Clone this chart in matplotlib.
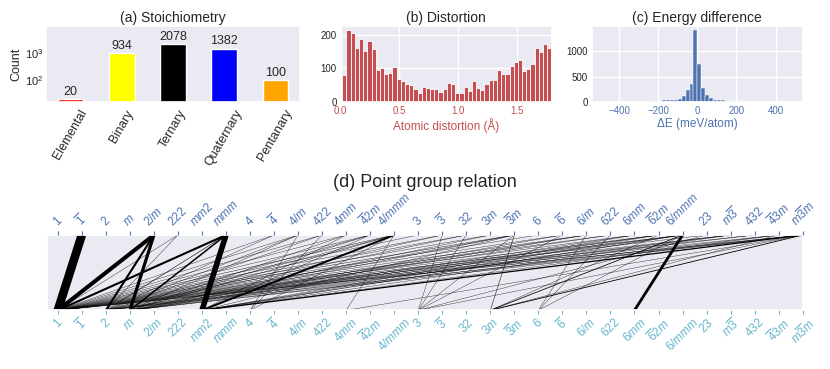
import numpy as np
import matplotlib
matplotlib.use("Agg")
import matplotlib.pyplot as plt
import seaborn as sns

# ---------------- data ----------------
# (a) Stoichiometry
stoich_categories = ["Elemental", "Binary", "Ternary", "Quaternary", "Pentanary"]
stoich_counts = [20, 934, 2078, 1382, 100]
stoich_colors = ["red", "yellow", "black", "blue", "orange"]

# (b) Distortion histogram (50 bins)
distortion_counts = [80, 216, 205, 160, 188, 152, 183, 158, 95, 102,
                     83, 88, 105, 70, 63, 55, 52, 38, 26, 45,
                     42, 38, 38, 30, 38, 57, 53, 28, 28, 45,
                     32, 62, 43, 36, 55, 65, 65, 95, 85, 85,
                     106, 120, 125, 93, 97, 113, 160, 148, 174, 162]
distortion_range = (0.0136, 1.797)
distortion_ticks = [0.0, 0.5, 1.0, 1.5]

# (c) Energy difference histogram (50 bins of 20 meV/atom, -500..500)
energy_counts = [3, 1, 1, 2, 1, 4, 1, 2, 2, 3, 4, 5,
                 8, 14, 20, 27, 33, 40, 40, 46, 59, 112, 243, 350,
                 1428, 743,
                 270, 145, 86, 46, 40, 33, 26, 20, 14, 13, 8, 5, 4, 3,
                 2, 2, 1, 1, 1, 1, 1, 1, 1, 1]
energy_range = (-500, 500)
energy_ticks = [-400, -200, 0, 200, 400]

# (d) Point group relation
point_groups = ["1", "-1", "2", "m", "2/m", "222", "mm2", "mmm", "4", "-4", "4/m",
                "422", "4mm", "-42m", "4/mmm", "3", "-3", "32", "3m", "-3m", "6",
                "-6", "6/m", "622", "6mm", "-62m", "6/mmm", "23", "m-3", "432",
                "-43m", "m-3m"]

edge_lower = (["1"] * 27 + ["2"] * 18 + ["m"] * 16 + ["mm2"] * 11 + ["4"] * 3 +
              ["4mm"] * 2 + ["3"] * 6 + ["3m"] * 5 + ["6"] * 3 + ["6mm"])
edge_upper = [
    # from 1
    "-1", "2/m", "mmm", "222", "-4", "4/m", "422", "-42m", "4/mmm", "3", "-3", "32",
    "3m", "-3m", "6", "-6", "6/m", "622", "6mm", "-62m", "6/mmm", "23", "m-3", "432",
    "-43m", "m-3m", "4mm",
    # from 2
    "2/m", "222", "mmm", "4/m", "422", "-42m", "4/mmm", "-3", "32", "-3m", "6/m",
    "622", "-62m", "6/mmm", "m-3", "432", "m-3m", "-4",
    # from m
    "2/m", "mmm", "4/m", "-42m", "4/mmm", "3m", "-3m", "-6", "6/m", "6mm", "-62m",
    "6/mmm", "m-3", "-43m", "m-3m", "4mm",
    # from mm2
    "mmm", "4/mmm", "4mm", "-42m", "-3m", "6mm", "-62m", "6/mmm", "-43m", "m-3m", "m-3",
    # from 4
    "4/m", "422", "4/mmm",
    # from 4mm
    "4/mmm", "m-3m",
    # from 3
    "-3", "32", "-6", "-3m", "23", "m-3m",
    # from 3m
    "-3m", "-62m", "6/mmm", "-43m", "m-3m",
    # from 6
    "6/m", "622", "6/mmm",
    # from 6mm
    "6/mmm",
]
edge_count = [
    620, 290, 150, 10, 10, 15, 8, 15, 30, 8, 20, 10,
    8, 30, 8, 10, 15, 8, 8, 15, 30, 8, 15, 8,
    15, 40, 8,
    150, 12, 40, 15, 10, 10, 25, 10, 12, 20, 12,
    10, 10, 20, 10, 8, 25, 8,
    230, 110, 12, 12, 30, 10, 20, 10, 10, 8, 15,
    25, 12, 12, 30, 10,
    400, 140, 15, 20, 15, 12, 20, 40, 15, 90, 12,
    12, 10, 8,
    20, 15,
    20, 15, 12, 12, 10, 15,
    35, 15, 55, 25, 60,
    15, 12, 20,
    200,
]

# ---------------- style ----------------
sns.set_theme(style="darkgrid")
plt.rcParams["font.family"] = ["Liberation Sans", "DejaVu Sans"]
plt.rcParams["mathtext.fontset"] = "custom"
plt.rcParams["mathtext.rm"] = "Liberation Sans"
plt.rcParams["mathtext.it"] = "Liberation Sans:italic"
plt.rcParams["mathtext.bf"] = "Liberation Sans:bold"

RED = "#c44e52"
BLUE = "#4c72b0"
CYAN = "#64b5cd"

W, H = 830, 369
fig = plt.figure(figsize=(W / 100, H / 100), dpi=100)


def px_axes(x0, y0, x1, y1):
    return fig.add_axes([x0 / W, 1 - y1 / H, (x1 - x0) / W, (y1 - y0) / H])


# ---------------- (a) ----------------
axa = px_axes(46, 26, 300, 102)
xa = np.arange(len(stoich_categories))
bars = axa.bar(xa, stoich_counts, width=0.5, color=stoich_colors, edgecolor="white")
axa.set_yscale("log")
axa.set_ylim(15.5, 9500)
axa.grid(False)
axa.set_xticks(xa)
axa.set_xticklabels(stoich_categories, rotation=60, fontsize=9)
axa.minorticks_off()
axa.tick_params(axis="y", labelsize=8, pad=2, length=0)
axa.tick_params(axis="x", pad=4, length=0)
axa.set_ylabel("Count", fontsize=9, labelpad=2)
axa.bar_label(bars, labels=[str(v) for v in stoich_counts], fontsize=9, padding=1)
axa.set_title("(a) Stoichiometry", fontsize=10, pad=3)

# ---------------- (b) ----------------
axb = px_axes(340.7, 26, 551.7, 102)
edges_b = np.linspace(distortion_range[0], distortion_range[1], len(distortion_counts) + 1)
axb.bar(edges_b[:-1], distortion_counts, width=np.diff(edges_b), align="edge",
        color=RED, edgecolor="white", linewidth=0.6)
axb.set_xlim(0, 1.8)
axb.set_xticks(distortion_ticks)
axb.set_xticklabels([f"{t:.1f}" for t in distortion_ticks])
axb.set_yticks([0, 100, 200])
axb.tick_params(axis="x", labelsize=7, labelcolor=RED, pad=3, length=0)
axb.tick_params(axis="y", labelsize=7, pad=3, length=0)
axb.set_xlabel("Atomic distortion (Å)", fontsize=8.5, color=RED, labelpad=1.5)
axb.set_title("(b) Distortion", fontsize=10, pad=3)

# ---------------- (c) ----------------
axc = px_axes(591.7, 26, 803, 102)
edges_c = np.linspace(energy_range[0], energy_range[1], len(energy_counts) + 1)
axc.bar(edges_c[:-1], energy_counts, width=np.diff(edges_c), align="edge",
        color=BLUE, edgecolor="white", linewidth=0.35)
axc.set_xlim(-540, 540)
axc.set_xticks(energy_ticks)
axc.set_yticks([0, 500, 1000])
axc.tick_params(axis="x", labelsize=7, labelcolor=BLUE, pad=3, length=0)
axc.tick_params(axis="y", labelsize=7, pad=3, length=0)
axc.set_xlabel("ΔE (meV/atom)", fontsize=8.5, color=BLUE, labelpad=1.5)
axc.set_title("(c) Energy difference", fontsize=10, pad=3)

# ---------------- (d) ----------------
def pg_tex(name):
    out = ""
    i = 0
    while i < len(name):
        c = name[i]
        if c == "-":
            out += r"\overline{" + name[i + 1] + "}"
            i += 2
            continue
        out += c
        i += 1
    return "$" + out + "$"


pg_index = {p: i for i, p in enumerate(point_groups)}
axd = px_axes(47, 235, 802.7, 310.3)
for lo, up, cnt in zip(edge_lower, edge_upper, edge_count):
    axd.plot([pg_index[lo], pg_index[up]], [0, 1], color="black",
             lw=max(cnt * 0.01, 0.25), solid_capstyle="butt", zorder=2)
axd.set_xlim(-0.45, len(point_groups) - 1)
axd.set_ylim(0, 1)
axd.grid(False)
axd.set_yticks([])
ticks_d = np.arange(len(point_groups))
labels_d = [pg_tex(p) for p in point_groups]
axd.set_xticks(ticks_d)
axd.set_xticklabels(labels_d, rotation=45, fontsize=8.5)
axd.tick_params(axis="x", bottom=True, length=3, width=0.8, color=CYAN,
                labelcolor=CYAN, pad=1, direction="out")

axt = axd.twiny()
axt.set_xlim(axd.get_xlim())
axt.grid(False)
axt.set_xticks(ticks_d)
axt.set_xticklabels(labels_d, rotation=45, fontsize=8.5)
axt.tick_params(axis="x", top=True, length=3, width=0.8, color=BLUE,
                labelcolor=BLUE, pad=1.5, direction="out")
for s in axt.spines.values():
    s.set_visible(False)

fig.text((47 + 802.7) / 2 / W, 1 - 183 / H, "(d) Point group relation",
         fontsize=13, ha="center", va="center", color=".15")

fig.savefig("out.png", dpi=100)
